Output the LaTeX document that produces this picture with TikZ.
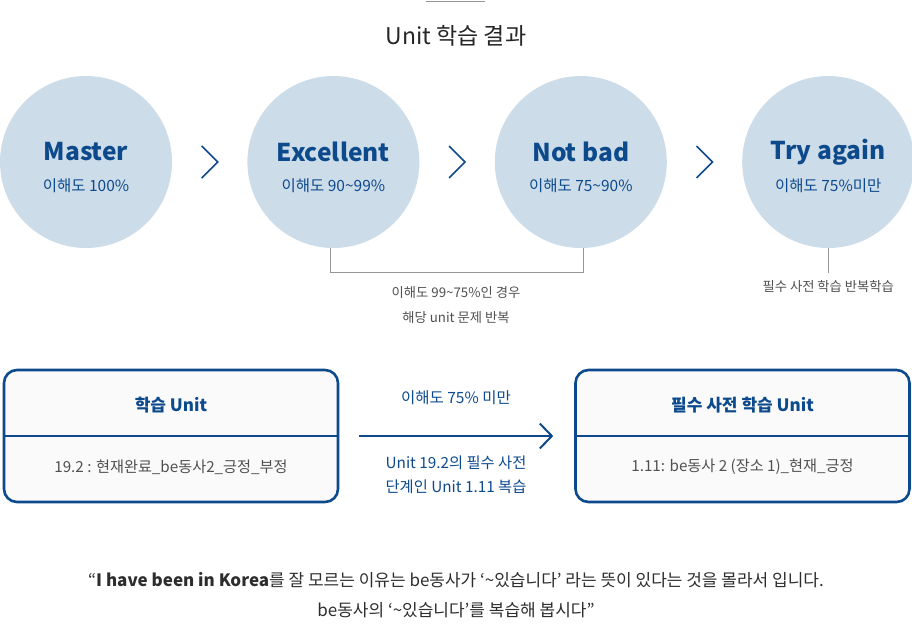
\documentclass[tikz,border=0pt]{standalone}
\usepackage{fontspec}
\setmainfont{Noto Sans CJK KR}
\usetikzlibrary{positioning,arrows.meta,calc}

\definecolor{unitblue}{RGB}{13,74,140}
\definecolor{circlefill}{RGB}{205,220,233}
\definecolor{linegray}{RGB}{150,150,150}
\definecolor{notegray}{RGB}{80,80,80}
\definecolor{quotegray}{RGB}{45,45,45}
\definecolor{boxfill}{RGB}{250,250,250}

\tikzset{
    level/.style={circle, fill=circlefill, minimum size=172pt, inner sep=0pt},
    leveltitle/.style={text=unitblue, font=\fontsize{24.5}{28}\selectfont\bfseries},
    levelsub/.style={text=unitblue, font=\fontsize{15.5}{18}\selectfont},
    chevron/.style={draw=unitblue, line width=1.6pt},
    guide/.style={draw=linegray, line width=0.8pt},
    notetext/.style={text=notegray, align=center, font=\fontsize{13.3}{25}\selectfont},
    unitbox/.style={draw=unitblue, line width=2.6pt, fill=boxfill, rounded corners=13pt,
        minimum width=334pt, minimum height=132pt},
    boxtitle/.style={text=unitblue, font=\fontsize{17}{20}\selectfont\bfseries},
    boxsub/.style={text=notegray, font=\fontsize{15.2}{18}\selectfont}
}

\begin{document}
\begin{tikzpicture}[x=1pt, y=1pt]
    \useasboundingbox (0,0) rectangle (912,-633);

    % Title
    \draw[guide] (426,-1) -- (485,-1);
    \node[font=\fontsize{23}{26}\selectfont, text=black!85] (title) at (456,-36) {Unit 학습 결과};

    % Levels
    \node[level] (master) at (86,-162) {};
    \node[level, right=75pt of master] (excellent) {};
    \node[level, right=75pt of excellent] (notbad) {};
    \node[level, right=75pt of notbad] (tryagain) {};

    \node[leveltitle] (mastertitle) at ([yshift=10pt]master.center) {Master};
    \node[levelsub] (mastersub) at ([yshift=-24pt]master.center) {이해도 100\%};
    \node[leveltitle] (excellenttitle) at ([yshift=10pt]excellent.center) {Excellent};
    \node[levelsub] (excellentsub) at ([yshift=-24pt]excellent.center) {이해도 90\textasciitilde{}99\%};
    \node[leveltitle] (notbadtitle) at ([yshift=10pt]notbad.center) {Not bad};
    \node[levelsub] (notbadsub) at ([yshift=-24pt]notbad.center) {이해도 75\textasciitilde{}90\%};
    \node[leveltitle] (tryagaintitle) at ([yshift=10pt]tryagain.center) {Try again};
    \node[levelsub] (tryagainsub) at ([yshift=-24pt]tryagain.center) {이해도 75\%미만};

    % Chevrons
    \coordinate (gap1) at ($(master.east)!0.5!(excellent.west)$);
    \coordinate (gap2) at ($(excellent.east)!0.5!(notbad.west)$);
    \coordinate (gap3) at ($(notbad.east)!0.5!(tryagain.west)$);
    \draw[chevron] ([shift={(-8,16)}]gap1) -- ([shift={(8,0)}]gap1) -- ([shift={(-8,-16)}]gap1);
    \draw[chevron] ([shift={(-8,16)}]gap2) -- ([shift={(8,0)}]gap2) -- ([shift={(-8,-16)}]gap2);
    \draw[chevron] ([shift={(-8,16)}]gap3) -- ([shift={(8,0)}]gap3) -- ([shift={(-8,-16)}]gap3);

    % Notes under the circles
    \draw[guide] ([xshift=-3pt]excellent.south) -- ++(0,-24) -| ([xshift=3pt]notbad.south);
    \node[notetext] (repeatnote) at (456,-305) {이해도 99\textasciitilde{}75\%인 경우\\해당 unit 문제 반복};
    \node[notetext, below=29pt of tryagain] (trynote) {필수 사전 학습 반복학습};
    \draw[guide, shorten >=4pt] (tryagain) -- (trynote);

    % Units
    \node[unitbox] (studybox) at (171,-436) {};
    \node[unitbox] (reqbox) at (742.5,-436) {};
    \draw[draw=unitblue, line width=1.2pt] (studybox.west) -- (studybox.east);
    \draw[draw=unitblue, line width=1.2pt] (reqbox.west) -- (reqbox.east);
    \node[boxtitle] (studytitle) at ([yshift=31pt]studybox.center) {학습 Unit};
    \node[boxsub] (studysub) at ([yshift=-31pt]studybox.center) {19.2 : 현재완료\_be동사2\_긍정\_부정};
    \node[boxtitle] (reqtitle) at ([yshift=31pt]reqbox.center) {필수 사전 학습 Unit};
    \node[boxsub] (reqsub) at ([yshift=-31pt]reqbox.center) {1.11: be동사 2 (장소 1)\_현재\_긍정};

    % Arrow
    \draw[draw=unitblue, line width=2pt, shorten <=20pt, shorten >=21pt,
        -{Straight Barb[length=12pt, width=25pt]}] (studybox) -- (reqbox);
    \node[text=unitblue, font=\fontsize{15.5}{18}\selectfont] (arrowtop) at (456,-398) {이해도 75\% 미만};
    \node[text=unitblue, align=center, font=\fontsize{15.3}{24}\selectfont] (arrowbottom) at (456,-475)
        {Unit 19.2의 필수 사전\\단계인 Unit 1.11 복습};

    % Quote
    \node[text=quotegray, align=center, font=\fontsize{17}{30}\selectfont] (quote) at (456,-595)
        {“\textbf{I have been in Korea}를 잘 모르는 이유는 be동사가 ‘\textasciitilde{}있습니다’ 라는 뜻이 있다는 것을 몰라서 입니다.\\
        be동사의 ‘\textasciitilde{}있습니다’를 복습해 봅시다”};
\end{tikzpicture}
\end{document}
